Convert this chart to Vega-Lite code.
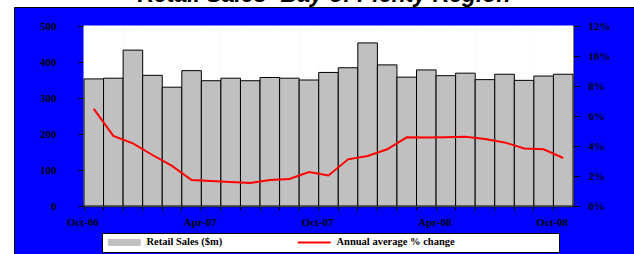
{
  "$schema": "https://vega.github.io/schema/vega-lite/v6.json",
  "autosize": {"type": "none"},
  "width": 620,
  "height": 247,
  "padding": {"left": 14, "top": 7, "right": 0, "bottom": 0},
  "background": "white",
  "config": {
    "view": {"fill": "#0000FF", "stroke": "black", "strokeWidth": 1},
    "font": "Liberation Serif"
  },
  "title": {
    "text": "Retail Sales- Bay of Plenty Region",
    "font": "Liberation Sans",
    "fontSize": 23,
    "fontWeight": "bold",
    "fontStyle": "italic",
    "color": "black",
    "anchor": "middle",
    "frame": "group",
    "baseline": "alphabetic",
    "offset": -18
  },
  "data": {
    "values": [
      {"month": "Oct-06", "sales": 353, "pct": 6.47},
      {"month": "Nov-06", "sales": 355, "pct": 4.67},
      {"month": "Dec-06", "sales": 433, "pct": 4.18},
      {"month": "Jan-07", "sales": 363, "pct": 3.4},
      {"month": "Feb-07", "sales": 330, "pct": 2.67},
      {"month": "Mar-07", "sales": 376, "pct": 1.73},
      {"month": "Apr-07", "sales": 348, "pct": 1.67},
      {"month": "May-07", "sales": 355, "pct": 1.6},
      {"month": "Jun-07", "sales": 348, "pct": 1.53},
      {"month": "Jul-07", "sales": 357, "pct": 1.73},
      {"month": "Aug-07", "sales": 355, "pct": 1.8},
      {"month": "Sep-07", "sales": 350, "pct": 2.27},
      {"month": "Oct-07", "sales": 371, "pct": 2.04},
      {"month": "Nov-07", "sales": 384, "pct": 3.11},
      {"month": "Dec-07", "sales": 453, "pct": 3.33},
      {"month": "Jan-08", "sales": 392, "pct": 3.78},
      {"month": "Feb-08", "sales": 358, "pct": 4.58},
      {"month": "Mar-08", "sales": 378, "pct": 4.56},
      {"month": "Apr-08", "sales": 362, "pct": 4.58},
      {"month": "May-08", "sales": 369, "pct": 4.62},
      {"month": "Jun-08", "sales": 351, "pct": 4.47},
      {"month": "Jul-08", "sales": 366, "pct": 4.24},
      {"month": "Aug-08", "sales": 349, "pct": 3.84},
      {"month": "Sep-08", "sales": 361, "pct": 3.78},
      {"month": "Oct-08", "sales": 366, "pct": 3.2}
    ]
  },
  "layer": [
    {
      "layer": [
        {
          "mark": {"type": "bar", "fill": "white", "stroke": "white", "strokeWidth": 1},
          "encoding": {
            "x": {
              "field": "month", "type": "ordinal", "sort": null,
              "scale": {"range": [70, 559], "paddingInner": 0, "paddingOuter": 0},
              "axis": {
                "orient": "top", "offset": -19, "title": null, "labels": false, "ticks": false,
                "domainColor": "#808080", "domainWidth": 1
              }
            },
            "y": {
              "datum": 500, "type": "quantitative",
              "scale": {"domain": [0, 500], "range": [199, 19], "nice": false, "zero": true},
              "axis": {
                "orient": "left", "offset": -70, "title": null, "values": [0, 100, 200, 300, 400, 500],
                "grid": false, "domainColor": "black", "tickColor": "black", "tickSize": 6,
                "labelPadding": 22, "labelFontSize": 11, "labelFontWeight": "bold", "labelColor": "black",
                "labelFont": "Liberation Serif"
              }
            }
          }
        },
        {
          "mark": {"type": "bar", "stroke": "black", "strokeWidth": 1},
          "encoding": {
            "x": {
              "field": "month", "type": "ordinal", "sort": null,
              "axis": {
                "orient": "bottom", "offset": -48, "title": null, "bandPosition": 0,
                "labelExpr": "indexof(['Oct-06','Apr-07','Oct-07','Apr-08','Oct-08'], datum.value) >= 0 ? datum.value : ''",
                "labelAngle": 0, "labelOverlap": false, "labelFlush": false, "labelOffset": -11,
                "domainColor": "black", "domainWidth": 1.5, "tickColor": "black", "tickSize": 4,
                "labelPadding": 6, "labelFontSize": 11, "labelFontWeight": "bold", "labelColor": "black",
                "labelFont": "Liberation Serif"
              }
            },
            "y": {
              "field": "sales", "type": "quantitative",
              "axis": {
                "orient": "left", "offset": -70, "title": null, "values": [0, 100, 200, 300, 400, 500],
                "grid": false, "domainColor": "black", "tickColor": "black", "tickSize": 6,
                "labelPadding": 22, "labelFontSize": 11, "labelFontWeight": "bold", "labelColor": "black",
                "labelFont": "Liberation Serif"
              }
            },
            "color": {
              "datum": "Retail Sales ($m)",
              "scale": {
                "domain": ["Retail Sales ($m)", "Annual average % change"],
                "range": ["#C0C0C0", "#FF0000"]
              },
              "legend": {
                "orient": "none", "legendX": 88, "legendY": 226, "direction": "horizontal",
                "title": null, "fillColor": "white", "strokeColor": "black", "padding": 4,
                "symbolSize": 36, "symbolOffset": 13, "labelOffset": 17, "columnPadding": 70,
                "labelFont": "Liberation Serif", "labelFontWeight": "bold", "labelFontSize": 10.5,
                "labelColor": "black", "labelLimit": 400,
                "labelExpr": "datum.value === 'Annual average % change' ? datum.label + '\u2003\u2003\u2003\u2003\u2003\u2003\u2003\u2003\u2003\u2002\u200b' : datum.label",
                "encode": {
                  "symbols": {
                    "update": {
                      "shape": {"signal": "datum.value === 'Retail Sales ($m)' ? 'M-5.333,-1H5.333V1H-5.333Z' : 'M-5.5,0H5.5'"},
                      "fill": {"signal": "datum.value === 'Retail Sales ($m)' ? '#C0C0C0' : 'transparent'"},
                      "stroke": {"signal": "datum.value === 'Retail Sales ($m)' ? '#000000' : '#FF0000'"},
                      "strokeWidth": {"signal": "datum.value === 'Retail Sales ($m)' ? 1 : 2"},
                      "opacity": {"value": 1}
                    }
                  }
                }
              }
            }
          }
        }
      ]
    },
    {
      "mark": {"type": "line", "strokeWidth": 2},
      "encoding": {
        "x": {"field": "month", "type": "ordinal", "sort": null, "axis": null},
        "y": {
          "field": "pct", "type": "quantitative",
          "scale": {"domain": [0, 12], "range": [199, 19], "nice": false},
          "axis": {
            "orient": "right", "offset": -61, "title": null, "values": [0, 2, 4, 6, 8, 10, 12],
            "labelExpr": "datum.value + '%'",
            "grid": false, "domainColor": "black", "domainWidth": 1.5, "tickColor": "black", "tickSize": 6,
            "labelPadding": 9, "labelFontSize": 11, "labelFontWeight": "bold", "labelColor": "black",
            "labelFont": "Liberation Serif"
          }
        },
        "color": {
          "datum": "Annual average % change",
          "legend": {
            "orient": "none", "legendX": 88, "legendY": 226, "direction": "horizontal",
            "title": null, "fillColor": "white", "strokeColor": "black", "padding": 4,
            "symbolSize": 36, "symbolOffset": 13, "labelOffset": 17, "columnPadding": 70,
            "labelFont": "Liberation Serif", "labelFontWeight": "bold", "labelFontSize": 10.5,
            "labelColor": "black", "labelLimit": 400,
            "labelExpr": "datum.value === 'Annual average % change' ? datum.label + '\u2003\u2003\u2003\u2003\u2003\u2003\u2003\u2003\u2003\u2002\u200b' : datum.label",
            "encode": {
              "symbols": {
                "update": {
                  "shape": {"signal": "datum.value === 'Retail Sales ($m)' ? 'M-5.333,-1H5.333V1H-5.333Z' : 'M-5.5,0H5.5'"},
                  "fill": {"signal": "datum.value === 'Retail Sales ($m)' ? '#C0C0C0' : 'transparent'"},
                  "stroke": {"signal": "datum.value === 'Retail Sales ($m)' ? '#000000' : '#FF0000'"},
                  "strokeWidth": {"signal": "datum.value === 'Retail Sales ($m)' ? 1 : 2"},
                  "opacity": {"value": 1}
                }
              }
            }
          }
        }
      }
    }
  ],
  "resolve": {"scale": {"y": "independent"}}
}
